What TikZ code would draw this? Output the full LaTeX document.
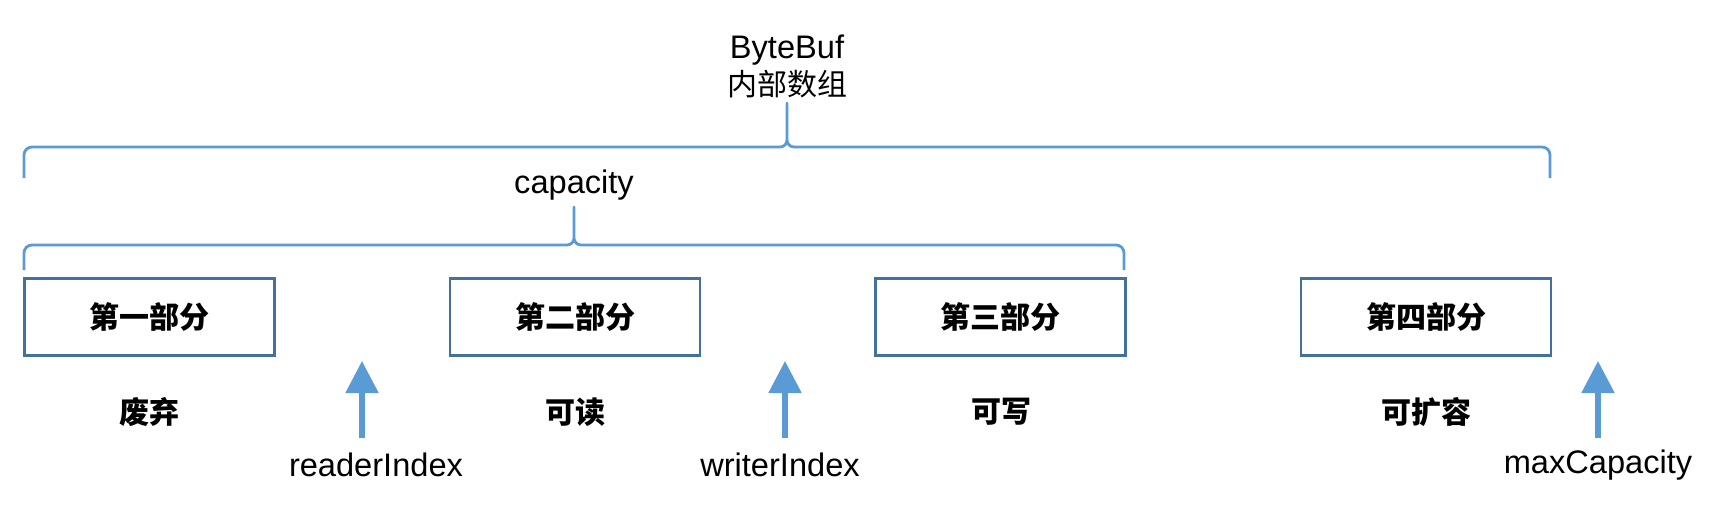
\documentclass[tikz,border=0pt]{standalone}
\usepackage{fontspec}
\setmainfont{Liberation Sans}
\newfontfamily\cjk{Noto Sans CJK SC}
\usetikzlibrary{arrows.meta}
\definecolor{spanblue}{HTML}{5B9BD5}
\definecolor{partblue}{HTML}{41719C}
\tikzset{part/.style = {draw=partblue, line width=1.2pt, inner sep=0pt,
                        minimum width=125pt, minimum height=38.5pt,
                        font=\cjk\bfseries\fontsize{15}{18}\selectfont}}
\tikzset{usage/.style = {font=\cjk\bfseries\fontsize{15}{18}\selectfont}}
\tikzset{idx/.style = {font=\fontsize{16.3}{19}\selectfont}}
\tikzset{spanline/.style = {draw=spanblue, line width=1.4pt, line join=round}}
\tikzset{pointer/.style = {draw=spanblue, line width=2.6pt,
                           -{Triangle[length=16pt,width=16pt]}}}

\begin{document}
\begin{tikzpicture}[x=0.5pt,y=-0.5pt]
  \useasboundingbox (0,0) rectangle (1730,510);
  % titles
  \node[idx] (bytebuf) at (787,50) {ByteBuf};
  \node[font=\cjk\fontsize{15}{18}\selectfont] (array) at (787,84) {内部数组};
  \node[idx] (capacity) at (574,185) {capacity};
  % outer span
  \draw[spanline] (24,178) -- (24,155) to[out=90,in=180] (32,147)
    -- (780,147) to[out=0,in=-90] (787,140) -- (787,103)
    -- (787,140) to[out=-90,in=180] (794,147)
    -- (1542,147) to[out=0,in=90] (1550,155) -- (1550,178);
  % inner span
  \draw[spanline] (24,270) -- (24,253) to[out=90,in=180] (32,245)
    -- (567,245) to[out=0,in=-90] (574,238) -- (574,207)
    -- (574,238) to[out=-90,in=180] (581,245)
    -- (1116,245) to[out=0,in=90] (1124,253) -- (1124,270);
  % parts
  \node[part] (p1) at (149.5,317) {第一部分};
  \node[part] (p2) at (575,317) {第二部分};
  \node[part] (p3) at (1000.5,317) {第三部分};
  \node[part] (p4) at (1426,317) {第四部分};
  \node[usage] (u1) at (149,412) {废弃};
  \node[usage] (u2) at (575,412) {可读};
  \node[usage] (u3) at (1001,412) {可写};
  \node[usage] (u4) at (1426,412) {可扩容};
  % indexes
  \node[idx] (reader) at (376,465) {readerIndex};
  \node[idx] (writer) at (780,465) {writerIndex};
  \node[idx] (maxcap) at (1598,465) {maxCapacity};
  \coordinate (rtip) at (362,361);
  \coordinate (rtail) at (362,438);
  \coordinate (wtip) at (785,361);
  \coordinate (wtail) at (785,438);
  \coordinate (mtip) at (1598,361);
  \coordinate (mtail) at (1598,438);
  \draw[pointer] (rtail) -- (rtip);
  \draw[pointer] (wtail) -- (wtip);
  \draw[pointer] (mtail) -- (mtip);
\end{tikzpicture}
\end{document}
